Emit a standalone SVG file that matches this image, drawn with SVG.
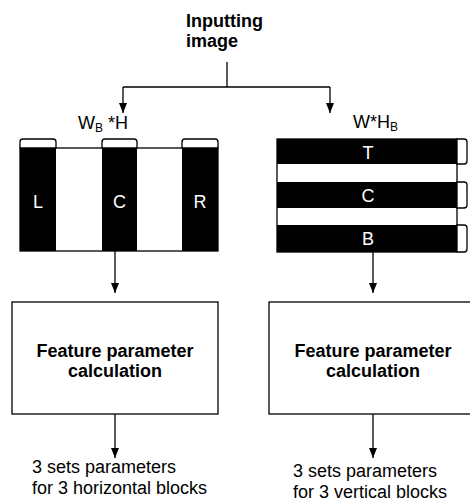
<svg xmlns="http://www.w3.org/2000/svg" width="470" height="502" viewBox="0 0 470 502">
<defs>
<marker id="ah" markerWidth="10" markerHeight="8" refX="10" refY="4" orient="auto" markerUnits="userSpaceOnUse" viewBox="0 0 10 8">
<path d="M0,0 L10,4 L0,8 Z" fill="#000"/>
</marker>
<style>
text{font-family:"Liberation Sans",Arial,sans-serif;fill:#000}
.b{font-weight:bold;font-size:18px}
.r{font-size:18px}
.w{fill:#fff;font-size:18px}
.sub{font-size:12px}
.ln{stroke:#000;stroke-width:1.3;fill:none}
.con{stroke:#000;stroke-width:1.3;fill:none}
.bx{stroke:#000;stroke-width:1.3;fill:#fff}
</style>
</defs>
<rect width="470" height="502" fill="#fff"/>
<g id="input">
<text class="b" x="186" y="27">Inputting</text>
<text class="b" x="186" y="47">image</text>
</g>
<g id="connectors">
<path class="con" d="M227,62 V87 M123,87 H330"/>
<path class="con" d="M123,87 V113" marker-end="url(#ah)"/>
<path class="con" d="M330,87 V113" marker-end="url(#ah)"/>
<path class="con" d="M115,251 V293" marker-end="url(#ah)"/>
<path class="con" d="M373,252 V293" marker-end="url(#ah)"/>
<path class="con" d="M115,414 V458" marker-end="url(#ah)"/>
<path class="con" d="M373,414 V458" marker-end="url(#ah)"/>
</g>
<g id="vblocks">
<text class="r" x="78" y="129">W<tspan class="sub" dy="3">B</tspan><tspan dy="-3"> *H</tspan></text>
<rect class="ln" x="20" y="148" width="198" height="103"/>
<path class="bx" d="M20,148 V142 Q20,139 23,139 H53 Q56,139 56,142 V148 Z"/>
<path class="bx" d="M102,148 V142 Q102,139 105,139 H134 Q137,139 137,142 V148 Z"/>
<path class="bx" d="M182,148 V142 Q182,139 185,139 H215 Q218,139 218,142 V148 Z"/>
<rect x="20" y="148" width="36" height="103" fill="#000"/>
<rect x="102" y="148" width="35" height="103" fill="#000"/>
<rect x="182" y="148" width="36" height="103" fill="#000"/>
<text class="w" x="38" y="208" text-anchor="middle">L</text>
<text class="w" x="119.5" y="208" text-anchor="middle">C</text>
<text class="w" x="200" y="208" text-anchor="middle">R</text>
</g>
<g id="hblocks">
<text class="r" x="353" y="128">W*H<tspan class="sub" dy="3">B</tspan></text>
<rect class="ln" x="277" y="139" width="180" height="113"/>
<path class="bx" d="M457,139 H464 Q467,139 467,142 V161 Q467,164 464,164 H457 Z"/>
<path class="bx" d="M457,182 H464 Q467,182 467,185 V205 Q467,208 464,208 H457 Z"/>
<path class="bx" d="M457,225 H464 Q467,225 467,228 V249 Q467,252 464,252 H457 Z"/>
<rect x="277" y="139" width="180" height="25" fill="#000"/>
<rect x="277" y="182" width="180" height="26" fill="#000"/>
<rect x="277" y="225" width="180" height="27" fill="#000"/>
<text class="w" x="368" y="159" text-anchor="middle">T</text>
<text class="w" x="368" y="202" text-anchor="middle">C</text>
<text class="w" x="368" y="245" text-anchor="middle">B</text>
</g>
<g id="calcL">
<rect class="ln" x="12" y="302" width="206" height="112"/>
<text class="b" x="115" y="357" text-anchor="middle">Feature parameter</text>
<text class="b" x="115" y="377" text-anchor="middle">calculation</text>
</g>
<g id="calcR">
<rect class="ln" x="269" y="302" width="210" height="112"/>
<text class="b" x="373" y="357" text-anchor="middle">Feature parameter</text>
<text class="b" x="373" y="377" text-anchor="middle">calculation</text>
</g>
<g id="outL">
<text class="r" x="32" y="473">3 sets parameters</text>
<text class="r" x="32" y="494">for 3 horizontal blocks</text>
</g>
<g id="outR">
<text class="r" x="293" y="477">3 sets parameters</text>
<text class="r" x="293" y="498">for 3 vertical blocks</text>
</g>
</svg>
